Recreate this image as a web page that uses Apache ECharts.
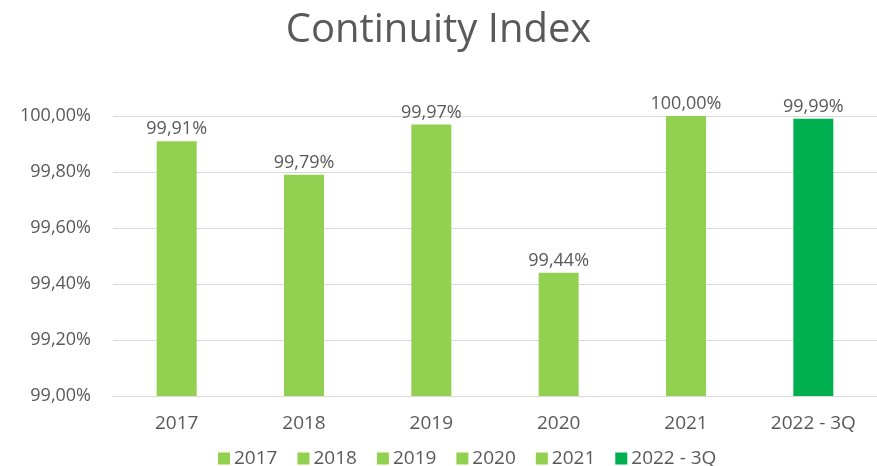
<!DOCTYPE html>
<html><head><meta charset="utf-8">
<script src="https://cdn.jsdelivr.net/npm/echarts@6/dist/echarts.min.js"></script>
<style>html,body{margin:0;padding:0;background:#fff}#c{width:877px;height:466px}</style>
</head><body><div id="c"></div>
<script>
const categories = ['2017','2018','2019','2020','2021','2022 - 3Q'];
const values = [99.91, 99.79, 99.97, 99.44, 100.00, 99.99];
const colors = ['#92D050','#92D050','#92D050','#92D050','#92D050','#00B050'];
const yTicks = {min: 99, max: 100, interval: 0.2};

const fmt = v => v.toFixed(2).replace('.', ',') + '%';
const FONT = 'Open Sans';
const series = categories.map((c, i) => ({
  name: c,
  type: 'bar',
  stack: 'all',
  barWidth: 40,
  itemStyle: {color: colors[i]},
  label: {show: true, position: 'top', distance: 3, color: '#595959', fontFamily: FONT, fontSize: 18,
    formatter: p => fmt(p.value)},
  data: categories.map((_, j) => j === i ? values[i] : '-')
}));

const chart = echarts.init(document.getElementById('c'));
chart.setOption({
  animation: false,
  title: {text: 'Continuity Index', left: 'center', top: 6, itemGap: 0,
    textStyle: {fontFamily: FONT, fontSize: 40, fontWeight: 'normal', color: '#595959'}},
  legend: {top: 444, left: 213, itemWidth: 12, itemHeight: 12, itemGap: 20,
    icon: 'rect', textStyle: {fontFamily: FONT, fontSize: 19, color: '#595959', padding: [0,0,0,-1]}},
  grid: {left: 113, top: 116, width: 770, height: 280},
  xAxis: {type: 'category', data: categories,
    axisLine: {lineStyle: {color: '#d9d9d9'}}, axisTick: {show: false},
    axisLabel: {color: '#595959', fontFamily: FONT, fontSize: 19, margin: 18}},
  yAxis: {type: 'value', min: yTicks.min, max: yTicks.max, interval: yTicks.interval,
    axisLine: {show: false}, axisTick: {show: false},
    splitLine: {lineStyle: {color: '#d9d9d9'}},
    axisLabel: {color: '#595959', fontFamily: FONT, fontSize: 18, margin: 22, formatter: fmt}},
  series: series
});
</script></body></html>
